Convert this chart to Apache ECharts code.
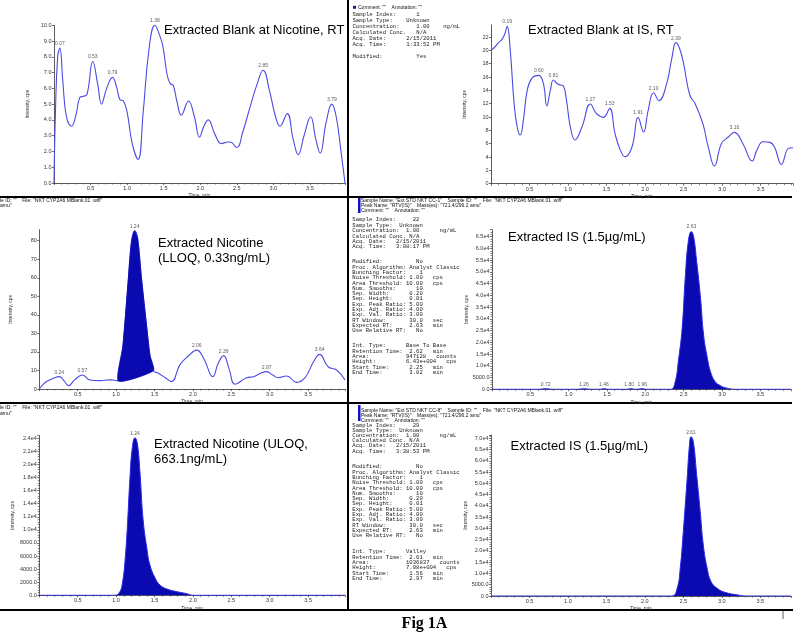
<!DOCTYPE html>
<html><head><meta charset="utf-8">
<script src="https://cdn.jsdelivr.net/npm/echarts@6/dist/echarts.min.js"></script>
<style>html,body{margin:0;padding:0;background:#fff}#c{width:800px;height:639px}</style>
</head><body><div id="c"></div>
<script>
// ---------- data ----------
const blankNicotine = [[0,0],[0.02,4.5],[0.05,8.0],[0.08,8.55],[0.12,6.5],[0.17,4.2],[0.24,3.6],[0.3,4.3],[0.35,5.4],[0.4,5.5],[0.45,5.6],[0.53,7.7],[0.6,6.2],[0.65,5.0],[0.72,6.0],[0.8,6.7],[0.86,6.0],[0.9,5.3],[0.95,5.2],[1.0,4.5],[1.07,2.5],[1.15,1.5],[1.22,4.5],[1.3,8.5],[1.38,10.0],[1.45,9.3],[1.49,8.65],[1.55,6.8],[1.59,6.3],[1.63,6.2],[1.68,5.2],[1.74,4.3],[1.84,5.2],[1.92,4.2],[1.99,2.9],[2.05,3.6],[2.11,4.0],[2.2,3.1],[2.29,2.5],[2.38,2.6],[2.41,2.6],[2.5,2.25],[2.58,3.2],[2.68,4.8],[2.78,6.3],[2.86,7.15],[2.95,5.8],[3.03,4.2],[3.09,3.6],[3.19,4.4],[3.27,2.8],[3.34,1.8],[3.42,3.0],[3.51,4.2],[3.58,2.8],[3.64,1.9],[3.72,3.8],[3.8,5.0],[3.86,4.2],[3.92,2.2],[3.98,0]];
const blankNicotinePeaks = [[0.08,8.55,'0.07'],[0.53,7.7,'0.53'],[0.80,6.7,'0.79'],[1.38,10.0,'1.38'],[2.86,7.15,'2.85'],[3.80,5.0,'3.79']];

const blankIS = [[0,20.0],[0.05,20.5],[0.1,21.2],[0.14,21.6],[0.18,22.5],[0.21,23.6],[0.25,20],[0.3,12],[0.34,8.5],[0.38,7.3],[0.42,9.5],[0.47,14],[0.53,15.8],[0.62,16.25],[0.68,15],[0.725,11.65],[0.77,14],[0.81,15.55],[0.86,15],[0.9,14.8],[0.94,14.65],[0.98,12.5],[1.03,8.5],[1.09,6.55],[1.18,8.5],[1.29,11.95],[1.37,10.5],[1.46,9.95],[1.54,11.3],[1.61,7.5],[1.68,5],[1.74,4.05],[1.83,5.5],[1.91,9.95],[1.98,7.75],[2.04,11],[2.11,13.65],[2.18,12.45],[2.28,15],[2.35,19],[2.40,21.15],[2.45,20.2],[2.5,18],[2.58,13.3],[2.65,12],[2.75,9],[2.82,5.5],[2.90,2.65],[2.99,6],[3.08,7],[3.16,7.7],[3.27,6],[3.39,3.4],[3.45,5],[3.53,6.3],[3.62,6.2],[3.68,5.5],[3.77,2.9],[3.86,5.3],[3.92,5.4]];
const blankISPeaks = [[0.21,23.6,'0.19'],[0.62,16.25,'0.60'],[0.81,15.55,'0.81'],[1.29,11.95,'1.27'],[1.54,11.3,'1.53'],[1.91,9.95,'1.91'],[2.11,13.65,'2.10'],[2.40,21.15,'2.39'],[3.16,7.7,'3.16']];

const lloq = [[0,0],[0.05,2.5],[0.1,4.2],[0.2,6.1],[0.26,6.65],[0.32,4.5],[0.38,1.8],[0.46,4.9],[0.56,7.55],[0.66,4.9],[0.79,4.5],[0.92,4.9],[1.01,4.5],[1.03,4.3],[1.09,23.7],[1.16,59.7],[1.2,79.5],[1.24,85.3],[1.28,81.3],[1.33,59.7],[1.4,32.7],[1.44,18.3],[1.485,9.9],[1.55,8.5],[1.64,6.1],[1.72,4.0],[1.83,13],[1.94,17.8],[2.05,21],[2.14,16.5],[2.26,6.65],[2.33,14],[2.40,18],[2.47,11],[2.55,2.6],[2.7,6.1],[2.79,6.65],[2.88,8.5],[2.96,9.35],[3.04,7.5],[3.11,6.1],[3.22,7],[3.35,3.6],[3.46,6.1],[3.57,14.7],[3.65,18.7],[3.76,12],[3.87,10.25],[3.98,4.9]];
const lloqPeakStart = 1.03, lloqPeakEnd = 1.485;
const lloqPeaks = [[0.26,6.65,'0.24'],[0.56,7.55,'0.57'],[1.24,85.3,'1.24'],[2.05,21,'2.06'],[2.40,18,'2.39'],[2.96,9.35,'2.97'],[3.65,18.7,'3.64']];

const isLow = [[0,0],[0.6,0],[0.70,250],[0.8,0],[1.1,0],[1.2,200],[1.3,0],[1.4,0],[1.46,250],[1.52,0],[1.75,0],[1.81,250],[1.88,0],[1.96,250],[2.02,0],[2.33,0],[2.39,3270],[2.43,11800],[2.48,26000],[2.52,47300],[2.56,62900],[2.60,67200],[2.63,65000],[2.67,54400],[2.72,38800],[2.76,23100],[2.81,13200],[2.85,7500],[2.91,3270],[2.98,1560],[3.04,700],[3.17,0],[3.9,0]];
const isLowPeaks = [[0.70,250,'0.72'],[1.2,200,'1.26'],[1.46,250,'1.46'],[1.79,250,'1.80'],[1.96,250,'1.96'],[2.60,67200,'2.63']];

const uloq = [[0,0],[0.98,0],[1.05,560],[1.085,2090],[1.115,5150],[1.145,10240],[1.18,17900],[1.21,22500],[1.246,24100],[1.276,23240],[1.31,18900],[1.35,11770],[1.40,7190],[1.44,4640],[1.51,2600],[1.57,1580],[1.66,970],[1.79,560],[1.92,255],[2.0,0],[3.98,0]];
const uloqPeaks = [[1.246,24100,'1.24']];

const isHigh = [[0,0],[2.35,0],[2.42,3400],[2.46,12300],[2.50,28600],[2.55,52200],[2.58,67000],[2.60,70700],[2.63,68500],[2.67,55200],[2.72,37400],[2.76,22600],[2.81,12300],[2.86,6400],[2.94,3400],[3.04,1630],[3.21,440],[3.32,0],[3.9,0]];
const isHighPeaks = [[2.60,70700,'2.61']];

const titles = ['Extracted Blank at Nicotine, RT','Extracted Blank at IS, RT','Extracted Nicotine\n(LLOQ, 0.33ng/mL)','Extracted IS (1.5µg/mL)','Extracted Nicotine (ULOQ,\n663.1ng/mL)','Extracted IS (1.5µg/mL)'];

// ---------- helpers ----------
const LINE = '#4b4be3', FILL = '#0a0ab0', AX = '#333';
const r = (l, v, u) => l.padEnd(16) + (v || '').padStart(5) + (u ? '   ' + u : '');
const eFmt = v => v === 0 ? '0.0' : (v < 10000 ? v.toFixed(1) : (v / 10000).toFixed(1) + 'e4');

const gridDefs = [
  {left:54, top:25.3, width:291, height:157.7},
  {left:491, top:25, width:302, height:158.7},
  {left:39.3, top:229.6, width:305.7, height:159.4},
  {left:492, top:229.7, width:299, height:159.6},
  {left:39.3, top:435.7, width:305.7, height:159.6},
  {left:491, top:434.9, width:300, height:161.1}
];
const xMax = [3.98, 3.92, 3.98, 3.9, 3.98, 3.9];
const yCfg = [
  {max:10, interval:1, fmt:v=>v.toFixed(1), minor:false, gap:24},
  {max:23.8, interval:2, fmt:v=>String(v), minor:false, gap:24},
  {max:86, interval:10, fmt:v=>String(v), minor:false, gap:26},
  {max:68000, interval:5000, fmt:eFmt, minor:true, gap:22},
  {max:24400, interval:2000, fmt:eFmt, minor:true, gap:24},
  {max:71500, interval:5000, fmt:eFmt, minor:true, gap:23}
];
const labelFont = {fontSize:5.5, color:AX, fontFamily:'Liberation Sans'};

const xAxis = gridDefs.map((g,i)=>({
  type:'value', gridIndex:i, min:0, max:xMax[i], interval:0.5,
  name:'Time, min', nameLocation:'middle', nameGap:10.5,
  nameTextStyle:{fontSize:5, color:AX, fontFamily:'Liberation Sans'},
  axisLine:{lineStyle:{color:AX, width:0.8}},
  axisTick:{length:2, lineStyle:{color:AX, width:0.7}},
  minorTick:{show:true, splitNumber:5, length:1.5, lineStyle:{color:AX, width:0.6}},
  splitLine:{show:false},
  axisLabel:Object.assign({margin:2.5, showMinLabel:false, showMaxLabel:false, formatter:v=>v.toFixed(1)}, labelFont)
}));
const yAxis = gridDefs.map((g,i)=>({
  type:'value', gridIndex:i, min:0, max:yCfg[i].max, interval:yCfg[i].interval,
  name:'Intensity, cps', nameLocation:'middle', nameGap:yCfg[i].gap,
  nameTextStyle:{fontSize:5, color:AX, fontFamily:'Liberation Sans'},
  axisLine:{show:true, lineStyle:{color:AX, width:0.8}},
  axisTick:{show:true, length:2, lineStyle:{color:AX, width:0.7}},
  minorTick:{show:yCfg[i].minor, splitNumber:5, length:1.5, lineStyle:{color:AX, width:0.6}},
  splitLine:{show:false},
  axisLabel:Object.assign({margin:2.5, showMaxLabel: (yCfg[i].max % yCfg[i].interval === 0), formatter:yCfg[i].fmt}, labelFont)
}));

const curves = [blankNicotine, blankIS, lloq, isLow, uloq, isHigh];
const peaks = [blankNicotinePeaks, blankISPeaks, lloqPeaks, isLowPeaks, uloqPeaks, isHighPeaks];
const filled = [false, false, false, true, true, true];

const series = [];
curves.forEach((d,i)=>{
  series.push({
    type:'line', xAxisIndex:i, yAxisIndex:i, data:d, showSymbol:false,
    smooth:0.45, z:2,
    lineStyle:{color: filled[i] ? '#2a2ae6' : LINE, width: filled[i] ? 1 : 1.1},
    areaStyle: filled[i] ? {color:FILL, opacity:1} : undefined
  });
  series.push({
    type:'scatter', xAxisIndex:i, yAxisIndex:i, data:peaks[i], symbolSize:1,
    itemStyle:{color:'rgba(0,0,0,0)'}, z:5, silent:true,
    label:{show:true, position:'top', distance:1.5, formatter:p=>p.data[2], fontSize:5, color:AX, fontFamily:'Liberation Sans'}
  });
});
const lloqPeakPts = lloq.filter(p=>p[0]>=lloqPeakStart && p[0]<=lloqPeakEnd);
series.push({
  type:'custom', xAxisIndex:2, yAxisIndex:2, data:lloqPeakPts, z:4,
  renderItem:(params, api)=>{
    if (params.dataIndex !== 0) return null;
    const pts = lloqPeakPts.map(p=>api.coord(p));
    return {type:'polygon', shape:{points:pts, smooth:0.2}, style:{fill:FILL, stroke:FILL, lineWidth:0.8}};
  }
});

// ---------- graphic texts ----------
const mono = '5.6px "Liberation Mono"';
const sans5 = '5px "Liberation Sans"';
const txt = (x,y,text,font,extra) => ({type:'text', x:x, y:y, silent:true, style:Object.assign({text:text, font:font, fill:'#111', align:'left', verticalAlign:'middle', textAlign:'left', textVerticalAlign:'middle'}, extra||{})});
const block = (x,yFirst,lines,lh) => ({type:'text', x:x, y:yFirst - lh/2, silent:true, style:{text:lines.join('\n'), font:mono, lineHeight:lh, fill:'#222', align:'left', verticalAlign:'top', textAlign:'left', textVerticalAlign:'top'}});
const hline = (x1,y,x2,w) => ({type:'line', silent:true, shape:{x1:x1,y1:y,x2:x2,y2:y}, style:{stroke:'#000', lineWidth:w}});

const topMeta = ['Sample Index:      1','Sample Type:    Unknown','Concentration:     1.00    ng/mL','Calculated Conc.   N/A','Acq. Date:      2/15/2011','Acq. Time:      1:33:52 PM','','Modified:          Yes'];
const procLines = (rt) => [
  r('Modified:','No'), 'Proc. Algorithm: Analyst Classic', r('Bunching Factor:','1'),
  r('Noise Threshold:','1.00','cps'), r('Area Threshold:','10.00','cps'), r('Num. Smooths:','10'),
  r('Sep. Width:','0.20'), r('Sep. Height:','0.01'), r('Exp. Peak Ratio:','5.00'), r('Exp. Adj. Ratio:','4.00'),
  r('Exp. Val. Ratio:','3.00'), r('RT Window:','30.0','sec'), r('Expected RT:',rt,'min'), r('Use Relative RT:','No')];
const midA = ['Sample Index:     22','Sample Type:  Unknown','Concentration:  1.00      ng/mL','Calculated Conc. N/A','Acq. Date:   2/15/2011','Acq. Time:   3:08:17 PM'];
const midC = ['Int. Type:      Base To Base', r('Retention Time:','2.62','min'), r('Area:','947128','counts'), r('Height:','6.43e+004','cps'), r('Start Time:','2.25','min'), r('End Time:','3.02','min')];
const botA = ['Sample Index:     29','Sample Type:  Unknown','Concentration:  1.00      ng/mL','Calculated Conc. N/A','Acq. Date:   2/15/2011','Acq. Time:   3:38:53 PM'];
const botC = ['Int. Type:      Valley', r('Retention Time:','2.61','min'), r('Area:','1036837','counts'), r('Height:','7.08e+004','cps'), r('Start Time:','1.56','min'), r('End Time:','2.97','min')];

const titleFont = '13px "Liberation Sans"';
const graphic = [
  {type:'line', silent:true, shape:{x1:348,y1:0,x2:348,y2:610}, style:{stroke:'#000', lineWidth:2}},
  hline(0,197,792,2), hline(0,403,792,2), hline(0,610,793,2),
  {type:'line', silent:true, shape:{x1:783,y1:611,x2:783,y2:619}, style:{stroke:'#333', lineWidth:0.8}},
  txt(164,30,titles[0],titleFont,{fill:'#000'}),
  txt(528,30,titles[1],titleFont,{fill:'#000'}),
  {type:'text', x:158, y:236, silent:true, style:{text:titles[2], font:titleFont, lineHeight:15, fill:'#000', align:'left', verticalAlign:'top', textAlign:'left', textVerticalAlign:'top'}},
  txt(508,237,titles[3],titleFont,{fill:'#000'}),
  {type:'text', x:154, y:437, silent:true, style:{text:titles[4], font:titleFont, lineHeight:15, fill:'#000', align:'left', verticalAlign:'top', textAlign:'left', textVerticalAlign:'top'}},
  txt(510.5,446.7,titles[5],titleFont,{fill:'#000'}),
  {type:'rect', silent:true, shape:{x:353,y:5.8,width:3,height:3}, style:{fill:'#1a1aa0'}},
  txt(358,7.3,'Comment: ""    Annotation: ""',sans5),
  block(352.5,14.3,topMeta,6.1),
  {type:'rect', silent:true, shape:{x:358,y:198,width:2.5,height:15}, style:{fill:'#1010c0'}},
  txt(361,200.7,'Sample Name: "Ext STD NKT CC-1"    Sample ID: ""    File: "NKT CYP2A6 MBlank.01 .wiff"',sans5),
  txt(361,206,'Peak Name: "RTV(IS)"    Mass(es): "721.4/296.2 amu"',sans5),
  txt(361,210.7,'Comment: ""    Annotation: ""',sans5),
  block(352.3,220,midA,5.35),
  block(352.3,261.7,procLines('2.63'),5.33),
  block(352.3,345.7,midC,5.33),
  {type:'rect', silent:true, shape:{x:358,y:405,width:2.5,height:16}, style:{fill:'#1010c0'}},
  txt(361,410.7,'Sample Name: "Ext STD NKT CC-8"    Sample ID: ""    File: "NKT CYP2A6 MBlank.01 .wiff"',sans5),
  txt(361,415.7,'Peak Name: "RTV(IS)"    Mass(es): "721.4/296.2 amu"',sans5),
  txt(361,420.3,'Comment: ""    Annotation: ""',sans5),
  block(352.3,425.3,botA,5.15),
  block(352.3,466.7,procLines('2.63'),5.33),
  block(352.3,551.7,botC,5.33),
  txt(0,200.6,'le ID: ""    File: "NKT CYP2A6 MBlank.01 .wiff"',sans5),
  txt(0,205.8,'amu"',sans5),
  txt(0,407.7,'le ID: ""    File: "NKT CYP2A6 MBlank.01 .wiff"',sans5),
  txt(0,413.5,'amu"',sans5),
  {type:'text', x:424.5, y:624, silent:true, style:{text:'Fig 1A', font:'bold 16px "Liberation Serif"', fill:'#000', align:'center', verticalAlign:'middle', textAlign:'center', textVerticalAlign:'middle'}}
];

const chart = echarts.init(document.getElementById('c'), null, {renderer:'canvas'});
chart.setOption({
  animation:false,
  backgroundColor:'#fff',
  grid: gridDefs,
  xAxis: xAxis,
  yAxis: yAxis,
  series: series,
  graphic: graphic
});
</script>
</body></html>
